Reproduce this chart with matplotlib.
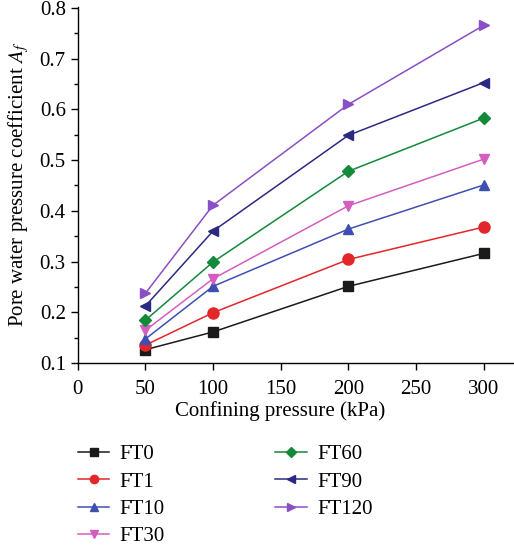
import matplotlib
matplotlib.use("Agg")
import matplotlib.pyplot as plt
from matplotlib.ticker import MultipleLocator

pressure = [50, 100, 200, 300]
series_names = ["FT0", "FT1", "FT10", "FT30", "FT60", "FT90", "FT120"]
ft0 = [0.126, 0.161, 0.251, 0.316]
ft1 = [0.135, 0.199, 0.304, 0.368]
ft10 = [0.147, 0.251, 0.364, 0.451]
ft30 = [0.164, 0.266, 0.410, 0.502]
ft60 = [0.184, 0.299, 0.478, 0.583]
ft90 = [0.212, 0.360, 0.549, 0.653]
ft120 = [0.237, 0.411, 0.610, 0.766]
values = [ft0, ft1, ft10, ft30, ft60, ft90, ft120]

colors = ["#1a1a1a", "#e3262a", "#3f4fb0", "#d45ec0", "#13893a", "#2b2a80", "#8a4fc4"]
markers = ["s", "o", "^", "v", "D", "<", ">"]
msizes = [7, 8, 7.5, 7.5, 6.5, 7.5, 7.5]

plt.rcParams["font.family"] = ["Liberation Serif", "DejaVu Serif"]
plt.rcParams["mathtext.fontset"] = "stix"

fig = plt.figure(figsize=(5.14, 5.49), dpi=100)
ax = fig.add_axes([0.151, 0.339, 0.848, 0.649])

for name, v, c, m, ms in zip(series_names, values, colors, markers, msizes):
    ax.plot(pressure, v, color=c, marker=m, markersize=ms, linewidth=1.1, label=name)

ax.set_xlim(0, 322)
ax.set_ylim(0.1, 0.803)
ax.set_xticks([0, 50, 100, 150, 200, 250, 300])
ax.yaxis.set_major_locator(MultipleLocator(0.1))
ax.yaxis.set_minor_locator(MultipleLocator(0.05))
ax.set_yticklabels([f"{t:.1f}" for t in ax.get_yticks()])
ax.tick_params(axis="both", which="major", labelsize=15, direction="out", length=5, width=1)
ax.tick_params(axis="x", which="major", pad=7)
ax.tick_params(axis="y", which="minor", direction="out", length=3, width=1)
for s in ["top", "right"]:
    ax.spines[s].set_visible(False)
for s in ["left", "bottom"]:
    ax.spines[s].set_linewidth(1)

ax.set_xlabel("Confining pressure (kPa)", fontsize=15)
ax.xaxis.set_label_coords(0.464, -0.106)
ax.set_ylabel("Pore water pressure coefficient $A_f$", fontsize=15, labelpad=6)

handles, labels = ax.get_legend_handles_labels()
fig.legend(handles, labels, loc="upper left", bbox_to_anchor=(0.152, 0.190),
           ncol=2, frameon=False, fontsize=15, handlelength=1.5, handletextpad=0.5,
           columnspacing=5.3, labelspacing=0.37, markerscale=0.75,
           borderpad=0, borderaxespad=0)

fig.savefig("out.png", dpi=100)
